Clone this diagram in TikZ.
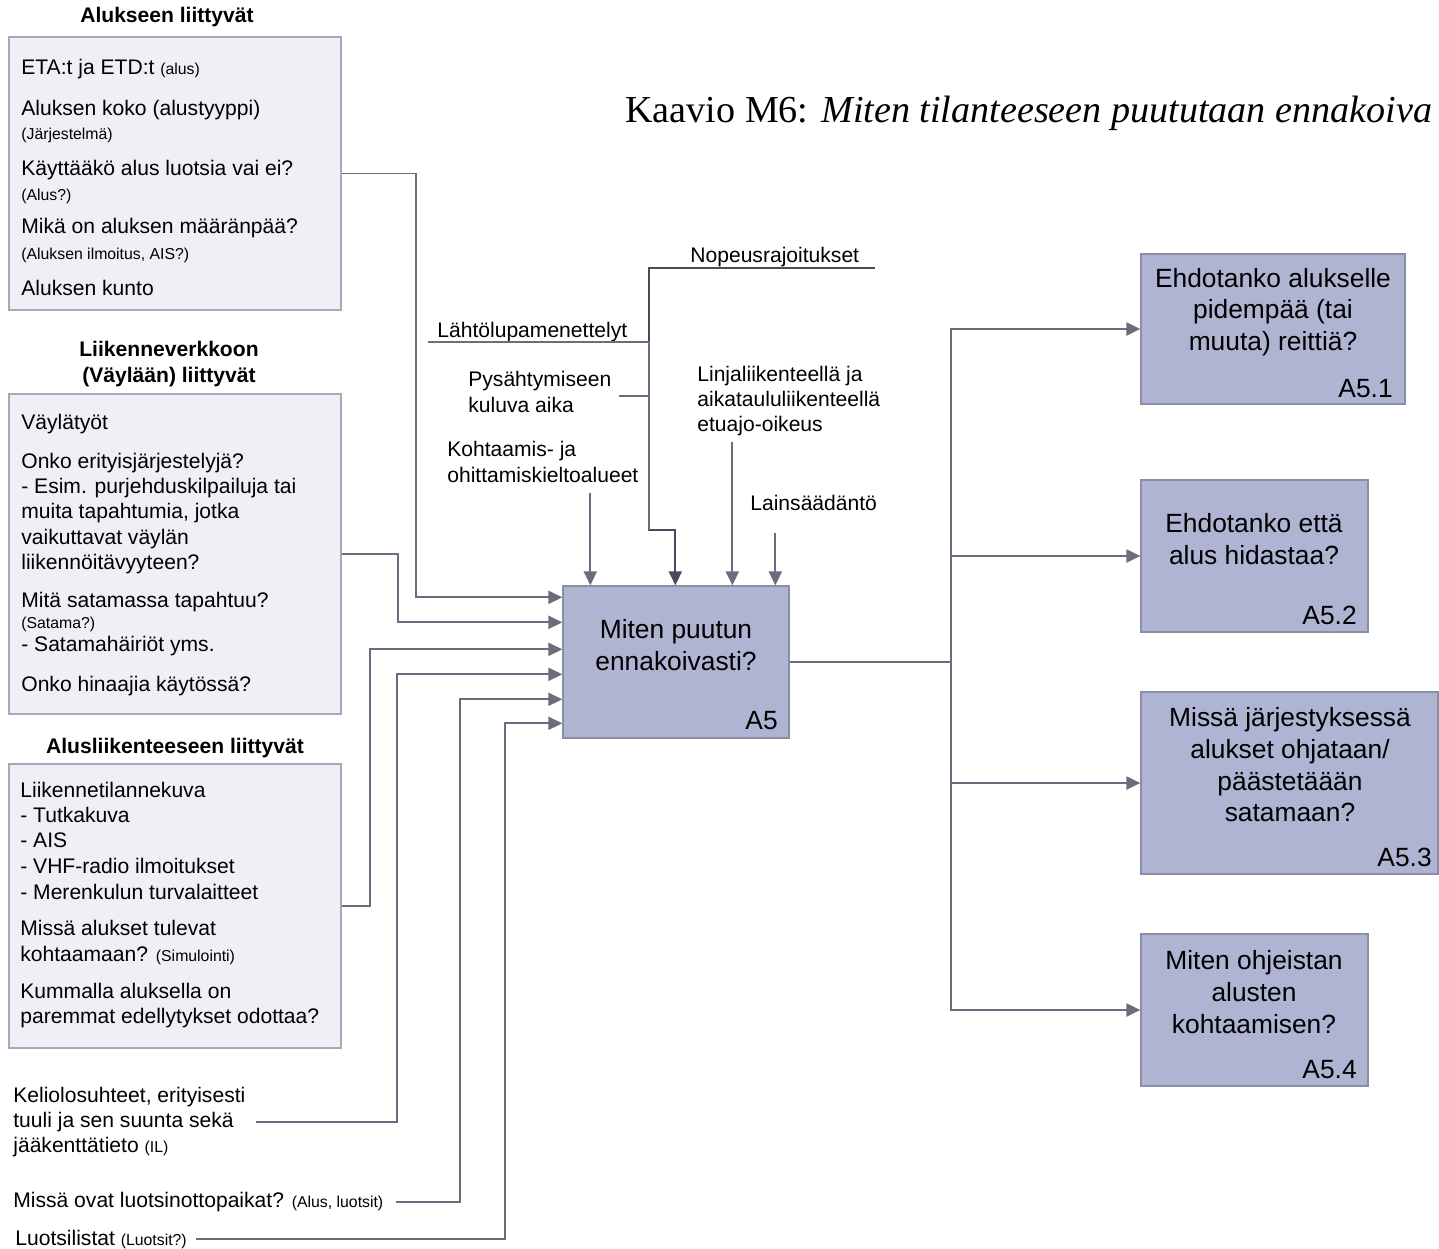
\documentclass[tikz,border=0pt]{standalone}
\usepackage{fontspec}
\setmainfont{Liberation Sans}
\newfontfamily\otsikkofont{Liberation Serif}
\usetikzlibrary{arrows.meta,positioning,calc}
\definecolor{viiva}{HTML}{6C6C7E}
\definecolor{tumma}{HTML}{4A4A5C}
\definecolor{ryhmafill}{HTML}{EFEFF5}
\definecolor{ryhmareuna}{HTML}{A8A8B8}
\definecolor{toimfill}{HTML}{AEB4D2}
\definecolor{toimreuna}{HTML}{8A8EA6}
\newcommand{\pien}[1]{{\fontsize{9}{10}\selectfont #1}}
\newcommand{\normi}{\fontsize{12}{14.4}\selectfont}
\newcommand{\iso}{\fontsize{15}{18}\selectfont}

\begin{document}
\begin{tikzpicture}[x=0.02cm,y=-0.02cm,
ryhma/.style={draw=ryhmareuna,fill=ryhmafill,line width=0.8pt,minimum width=6.64cm,inner sep=0},
otsake/.style={font=\normi\bfseries,align=center,inner sep=0},
rivi/.style={anchor=base west,inner sep=0,font=\normi},
selite/.style={anchor=west,align=left,inner sep=0,font=\normi},
toiminto/.style={draw=toimreuna,fill=toimfill,line width=0.8pt,inner sep=0},
toimteksti/.style={align=center,inner sep=0,font=\iso},
tunnus/.style={anchor=base east,inner sep=0,font=\iso},
yhd/.style={draw=viiva,line width=1.1pt},
vuo/.style={yhd,-{Triangle[length=8pt,width=7.5pt]}}]
\useasboundingbox (0,0) rectangle (1439,1248);
\clip (0,0) rectangle (1439,1248);

% otsikko
\node[anchor=base west,inner sep=0,font=\otsikkofont\fontsize{21.7}{26}\selectfont] (otsikko) at (625,122) {Kaavio M6: \textit{Miten tilanteeseen puututaan ennakoiva}};

% syotteet vasemmalla
\node[otsake] (t1) at (167,17) {Alukseen liittyvät};
\node[ryhma,minimum height=5.46cm] (b1) at (175,173.5) {};
\foreach \y/\t [count=\i] in {74/{ETA:t ja ETD:t \pien{(alus)}}, 115/{Aluksen koko (alustyyppi)}, 139/{\pien{(Järjestelmä)}}, 175/{Käyttääkö alus luotsia vai ei?}, 200/{\pien{(Alus?)}}, 233/{Mikä on aluksen määränpää?}, 259/{\pien{(Aluksen ilmoitus, AIS?)}}, 295/{Aluksen kunto}}
  \node[rivi] (alus\i) at (21,\y) {\t};

\node[otsake] (t2) at (169,364) {Liikenneverkkoon\\(Väylään) liittyvät};
\node[ryhma,minimum height=6.4cm] (b2) at (175,554) {};
\foreach \y/\t [count=\i] in {429/{Väylätyöt}, 468/{Onko erityisjärjestelyjä?}, 493/{- Esim. purjehduskilpailuja tai}, 518/{muita tapahtumia, jotka}, 544/{vaikuttavat väylän}, 569/{liikennöitävyyteen?}, 607/{Mitä satamassa tapahtuu?}, 628/{\pien{(Satama?)}}, 651/{- Satamahäiriöt yms.}, 691/{Onko hinaajia käytössä?}}
  \node[rivi] (vayla\i) at (21,\y) {\t};

\node[otsake] (t3) at (175,748) {Alusliikenteeseen liittyvät};
\node[ryhma,minimum height=5.68cm] (b3) at (175,906) {};
\foreach \y/\t [count=\i] in {797/{Liikennetilannekuva}, 822/{- Tutkakuva}, 847/{- AIS}, 873/{- VHF-radio ilmoitukset}, 899/{- Merenkulun turvalaitteet}, 935/{Missä alukset tulevat}, 961/{kohtaamaan? \pien{(Simulointi)}}, 998/{Kummalla aluksella on}, 1023/{paremmat edellytykset odottaa?}}
  \node[rivi] (liik\i) at (20,\y) {\t};

\node[selite] (kelio) at (13,1122) {Keliolosuhteet, erityisesti\\tuuli ja sen suunta sekä\\jääkenttätieto \pien{(IL)}};
\node[rivi] (paikat) at (13,1207) {Missä ovat luotsinottopaikat? \pien{(Alus, luotsit)}};
\node[rivi] (listat) at (15,1245) {Luotsilistat \pien{(Luotsit?)}};

% ohjaukset ylhaalla
\node[rivi] (nopeus) at (690,262) {Nopeusrajoitukset};
\node[rivi] (lahto) at (437,337) {Lähtölupamenettelyt};
\node[selite] (pysah) at (468,392) {Pysähtymiseen\\kuluva aika};
\node[selite] (kohtaus) at (447,462) {Kohtaamis- ja\\ohittamiskieltoalueet};
\node[selite] (linja) at (697,401) {Linjaliikenteellä ja\\aikataululiikenteellä\\etuajo-oikeus};
\node[rivi] (laki) at (750,510) {Lainsäädäntö};

% toiminnot
\node[toiminto,minimum width=4.52cm,minimum height=3.04cm] (a5) at (676,662) {};
\node[toimteksti] (a5t) at (676,645) {Miten puutun\\ennakoivasti?};
\node[tunnus] (a5n) at (778,729) {A5};

\node[toiminto,minimum width=5.28cm,minimum height=3.0cm] (r1) at (1273,329) {};
\node[toimteksti] (r1t) at (1273,312) {Ehdotanko alukselle\\pidempää (tai\\muuta) reittiä?};
\node[tunnus] (r1n) at (1393,397) {A5.1};
\node[toiminto,minimum width=4.54cm,minimum height=3.04cm] (r2) at (1254.5,556) {};
\node[toimteksti] (r2t) at (1254,539) {Ehdotanko että\\alus hidastaa?};
\node[tunnus] (r2n) at (1357,624) {A5.2};
\node[toiminto,minimum width=5.94cm,minimum height=3.64cm] (r3) at (1289.5,783) {};
\node[toimteksti] (r3t) at (1290,765) {Missä järjestyksessä\\alukset ohjataan/\\päästetäään\\satamaan?};
\node[tunnus] (r3n) at (1432,866) {A5.3};
\node[toiminto,minimum width=4.54cm,minimum height=3.04cm] (r4) at (1254.5,1010) {};
\node[toimteksti] (r4t) at (1254,992) {Miten ohjeistan\\alusten\\kohtaamisen?};
\node[tunnus] (r4n) at (1357,1078) {A5.4};

% liitoskohdat
\foreach \n/\d in {1/12,2/37,3/64,4/89,5/114,6/138}
  \coordinate (i\n) at ($(a5.north west)+(0,\d)$);
\foreach \n/\d in {1/28,2/113,3/170,4/213}
  \coordinate (c\n) at ($(a5.north west)+(\d,0)$);
\coordinate (runko) at (649,530);
\coordinate (jako) at (951,662);

% syotenuolet
\draw[vuo] (b1.east) -- ++(74,0) |- (i1);
\draw[vuo] (b2.east) -- ++(56,0) |- (i2);
\draw[vuo] (b3.east) -- ++(28,0) |- (i3);
\draw[vuo] ($(kelio.east)+(10,0)$) -- ++(141,0) |- (i4);
\draw[vuo] ($(paikat.east)+(12,0)$) -- ++(64,0) |- (i5);
\draw[vuo] ($(listat.east)+(9,0)$) -- ++(309,0) |- (i6);

% ohjausnuolet
\draw[vuo,draw=tumma] ($(nopeus.base east)+(16,6)$) -| (runko) -- (runko -| c2) -- (c2);
\draw[yhd] ($(lahto.base west)+(-9,5)$) -| (runko);
\draw[yhd] ($(pysah.east)+(7,4)$) -| (runko);
\draw[vuo] ($(kohtaus.south -| c1)+(0,10)$) -- (c1);
\draw[vuo] ($(linja.south -| c3)+(0,6)$) -- (c3);
\draw[vuo] ($(laki.south -| c4)+(0,22)$) -- (c4);

% tulosteet
\draw[yhd] (a5.east) -- (jako);
\draw[vuo] (jako) |- (r1.west);
\draw[vuo] (jako) |- (r2.west);
\draw[vuo] (jako) |- (r3.west);
\draw[vuo] (jako) |- (r4.west);
\end{tikzpicture}
\end{document}
